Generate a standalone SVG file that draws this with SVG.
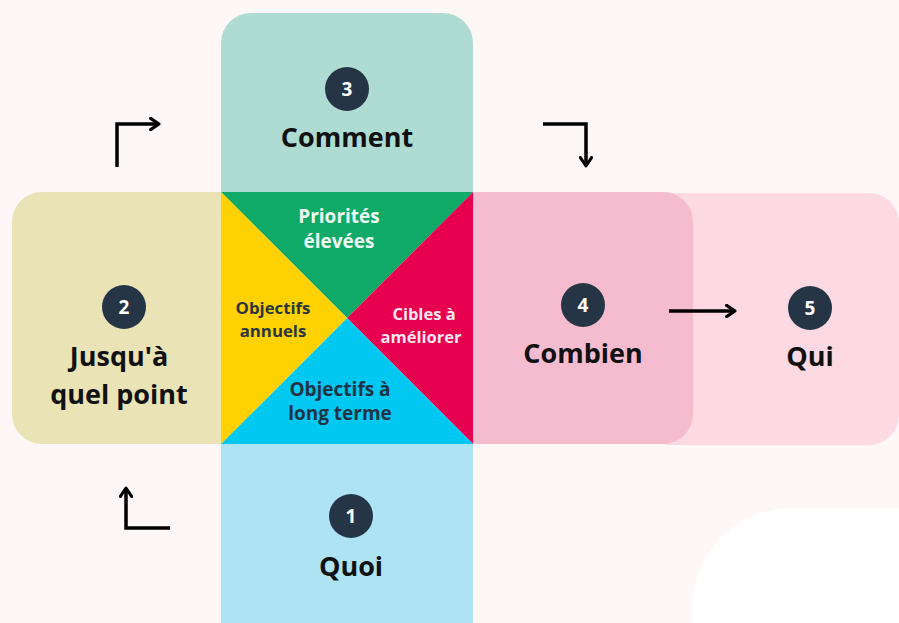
<svg xmlns="http://www.w3.org/2000/svg" width="899" height="623" viewBox="0 0 899 623">
<defs>
<style>
.lbl{font-family:"Open Sans","Liberation Sans",sans-serif;font-weight:700;font-size:27px;fill:#111;text-anchor:middle}
.num{font-family:"Open Sans","Liberation Sans",sans-serif;font-weight:700;font-size:19px;fill:#fff;text-anchor:middle}
.in{font-family:"Open Sans","Liberation Sans",sans-serif;font-weight:700;text-anchor:middle}
.badge{fill:#253545}
.conn{fill:none;stroke:#000;stroke-width:3.5}
</style>
<marker id="ah" viewBox="0 0 10 10" refX="7" refY="5" markerWidth="4" markerHeight="4" orient="auto" markerUnits="strokeWidth">
<path d="M1,1 L7,5 L1,9" fill="none" stroke="#000" stroke-width="2.2" stroke-linecap="round" stroke-linejoin="round"/>
</marker>
</defs>
<rect width="899" height="623" fill="#fdf8f7"/>
<path d="M692,623 L692,608 A100,100 0 0 1 792,508 L899,508 L899,623 Z" fill="#ffffff"/>

<g id="node5">
<rect x="640" y="193" width="259" height="252" rx="30" fill="#fcd9e3"/>
<circle class="badge" cx="810" cy="308" r="22"/>
<text class="num" x="810" y="315">5</text>
<text class="lbl" x="810" y="366">Qui</text>
</g>
<g id="node4">
<rect x="440" y="192" width="253" height="252" rx="30" fill="#f5bcd0"/>
<circle class="badge" cx="583" cy="305" r="22"/>
<text class="num" x="583" y="312">4</text>
<text class="lbl" x="583" y="363">Combien</text>
</g>
<g id="node3">
<rect x="221" y="13" width="252" height="220" rx="30" fill="#aedcd3"/>
<circle class="badge" cx="347" cy="89" r="22"/>
<text class="num" x="347" y="96">3</text>
<text class="lbl" x="347" y="147">Comment</text>
</g>
<g id="node2">
<rect x="12" y="192" width="240" height="252" rx="30" fill="#e9e3b5"/>
<circle class="badge" cx="124" cy="307" r="22"/>
<text class="num" x="124" y="314">2</text>
<text class="lbl" x="119" y="366">Jusqu'à</text>
<text class="lbl" x="119" y="404">quel point</text>
</g>
<g id="node1">
<rect x="221" y="410" width="252" height="240" rx="30" fill="#aee3f3"/>
<circle class="badge" cx="351" cy="516" r="22"/>
<text class="num" x="351" y="523">1</text>
<text class="lbl" x="351" y="576">Quoi</text>
</g>

<g id="center">
<polygon points="221,192 473,192 347,318" fill="#0fa968"/>
<polygon points="473,192 473,444 347,318" fill="#e6004f"/>
<polygon points="221,444 473,444 347,318" fill="#00c8f0"/>
<polygon points="221,192 221,444 347,318" fill="#fdd200"/>
<text class="in" x="339" y="223" font-size="19" fill="#eefaf3">Priorités</text>
<text class="in" x="339" y="248" font-size="19" fill="#eefaf3">élevées</text>
<text class="in" x="273" y="314" font-size="16.8" fill="#2b3540">Objectifs</text>
<text class="in" x="273" y="337" font-size="16.8" fill="#2b3540">annuels</text>
<text class="in" x="424" y="320" font-size="16.5" fill="#fde8ee">Cibles à</text>
<text class="in" x="421" y="343" font-size="16.5" fill="#fde8ee">améliorer</text>
<text class="in" x="340" y="396" font-size="19" fill="#1f3345">Objectifs à</text>
<text class="in" x="340" y="420" font-size="19" fill="#1f3345">long terme</text>
</g>

<g id="connectors">
<path class="conn" d="M117,167 L117,124 L159,124" marker-end="url(#ah)"/>
<path class="conn" d="M543,124 L586,124 L586,166" marker-end="url(#ah)"/>
<path class="conn" d="M170,528 L126,528 L126,488" marker-end="url(#ah)"/>
<path class="conn" d="M669,311 L735,311" marker-end="url(#ah)"/>
</g>
</svg>
